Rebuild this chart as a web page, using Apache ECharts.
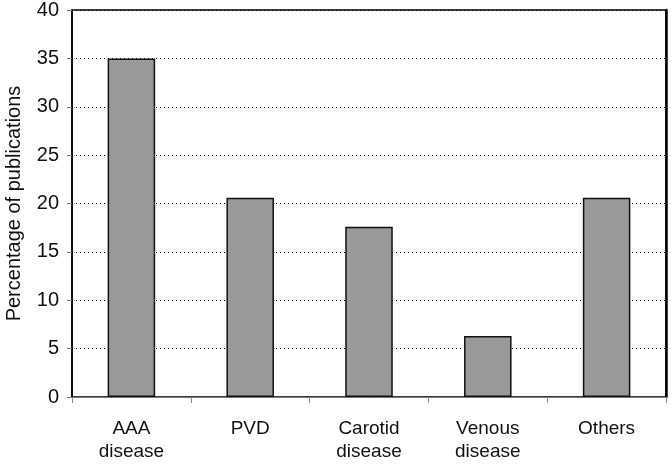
<!DOCTYPE html>
<html><head><meta charset="utf-8">
<script src="https://cdn.jsdelivr.net/npm/echarts@6/dist/echarts.min.js"></script>
<style>html,body{margin:0;padding:0;background:#fff}#c{width:672px;height:464px}</style>
</head><body><div id="c"></div>
<script>
const categories = ["AAA\ndisease", "PVD", "Carotid\ndisease", "Venous\ndisease", "Others"];
const values = [35, 20.6, 17.6, 6.3, 20.6];
const yTicks = { min: 0, max: 40, interval: 5 };
const yName = "Percentage of publications";

const chart = echarts.init(document.getElementById('c'));
const font = "'Liberation Sans', Arial, sans-serif";
chart.setOption({
  animation: false,
  grid: { left: 72, right: 6, top: 10, bottom: 67, show: true, borderColor: '#000', borderWidth: 1.5, backgroundColor: 'transparent', outerBoundsMode: 'none', containLabel: false },
  xAxis: {
    type: 'category', data: categories,
    axisLine: { lineStyle: { color: '#777', width: 1 } },
    axisTick: { show: true, length: 6, lineStyle: { color: '#888' }, alignWithLabel: false },
    axisLabel: { color: '#111', fontSize: 19, fontFamily: font, lineHeight: 23, margin: 20 },
    splitLine: { show: false }
  },
  yAxis: [{
    type: 'value', min: yTicks.min, max: yTicks.max, interval: yTicks.interval,
    name: yName, nameLocation: 'middle', nameGap: 48, nameRotate: 90,
    nameTextStyle: { color: '#111', fontSize: 20, fontFamily: font },
    axisLine: { show: true, lineStyle: { color: '#000', width: 1.5 } },
    axisTick: { show: true, length: 5, lineStyle: { color: '#777' } },
    axisLabel: { color: '#111', fontSize: 20, fontFamily: font, margin: 13 },
    splitLine: { show: true, lineStyle: { color: '#000', width: 1, type: [1, 3] } }
  }, {
    type: 'value', position: 'right', min: yTicks.min, max: yTicks.max, interval: yTicks.interval,
    axisLine: { show: true, lineStyle: { color: '#000', width: 2.5 } },
    axisTick: { show: false }, axisLabel: { show: false }, splitLine: { show: false }
  }],
  series: [{
    type: 'bar', data: values, barWidth: '40%', yAxisIndex: 0,
    itemStyle: { color: '#999999', borderColor: '#111', borderWidth: 1.5 }
  }]
});
</script></body></html>
